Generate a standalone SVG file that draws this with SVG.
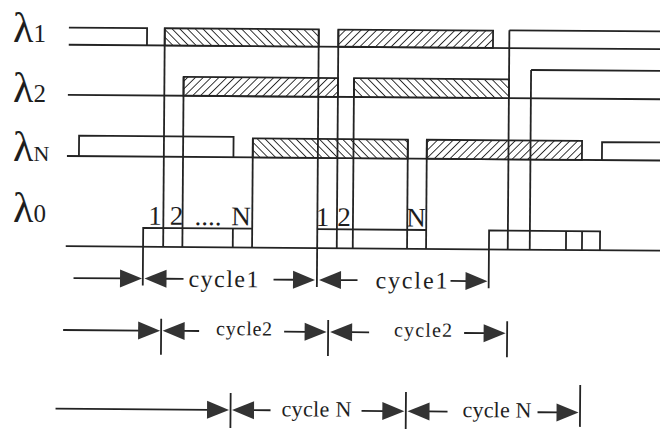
<svg xmlns="http://www.w3.org/2000/svg" xmlns:xlink="http://www.w3.org/1999/xlink" width="660" height="429" viewBox="0 0 660 429">
  <defs>
    <style>
      .ln { stroke: #232323; stroke-width: 1.8; fill: none; }
      .box { stroke: #232323; stroke-width: 1.8; }
      .back { fill: url(#hatchBack); }
      .fwd { fill: url(#hatchFwd); }
      .lam { font-family: "Liberation Serif", "Times New Roman", serif; fill: #1e1e1e; }
      .lbl { font-family: "Liberation Serif", "Times New Roman", serif; fill: #1e1e1e; font-size: 27px; text-anchor: middle; }
      .cyc { font-family: "Liberation Serif", "Times New Roman", serif; fill: #1e1e1e; }
      .ah { fill: #333; }
    </style>
    <!-- "\" hatching -->
    <pattern id="hatchBack" width="5.5" height="5.5" patternUnits="userSpaceOnUse" patternTransform="rotate(-45)">
      <rect width="5.5" height="5.5" fill="#fff"/>
      <line x1="0" y1="0" x2="0" y2="5.5" stroke="#222" stroke-width="1.8"/>
    </pattern>
    <!-- "/" hatching -->
    <pattern id="hatchFwd" width="5.5" height="5.5" patternUnits="userSpaceOnUse" patternTransform="rotate(45)">
      <rect width="5.5" height="5.5" fill="#fff"/>
      <line x1="0" y1="0" x2="0" y2="5.5" stroke="#222" stroke-width="1.8"/>
    </pattern>
    <!-- arrowheads, tip at origin -->
    <polygon id="ahR" class="ah" points="0,0 -22,-9 -22,9"/>
    <polygon id="ahL" class="ah" points="0,0 22,-9 22,9"/>
  </defs>

  <rect width="660" height="429" fill="#fff"/>

  <!-- channel labels -->
  <g id="labels">
    <text class="lam" x="13" y="42" font-size="42">λ<tspan font-size="25">1</tspan></text>
    <text class="lam" x="13" y="102" font-size="42">λ<tspan font-size="25">2</tspan></text>
    <text class="lam" x="13" y="161" font-size="42">λ<tspan font-size="22">N</tspan></text>
    <text class="lam" x="13" y="222" font-size="42">λ<tspan font-size="25">0</tspan></text>
  </g>

  <g transform="rotate(0.43 330 215)">
    <!-- wavelength λ1 -->
    <g id="lambda1">
      <path class="ln" d="M67.5,46.7 H672"/>
      <path class="ln" d="M67.5,29.5 H145.7 V46.7"/>
      <rect class="box back" x="163.4" y="29.5" width="154" height="17.2"/>
      <rect class="box fwd" x="337" y="29.5" width="154.7" height="17.2"/>
      <path class="ln" d="M508,29 H672"/>
    </g>

    <!-- wavelength λ2 -->
    <g id="lambda2">
      <path class="ln" d="M67,96.8 H672"/>
      <rect class="box fwd" x="182.6" y="78" width="154.4" height="18.8"/>
      <rect class="box back" x="353" y="78" width="155" height="18.8"/>
      <path class="ln" d="M530,68.5 H672"/>
    </g>

    <!-- wavelength λN -->
    <g id="lambdaN">
      <path class="ln" d="M66.5,158 H672"/>
      <path class="ln" d="M78.5,158 V137.5 H233 V158"/>
      <rect class="box back" x="252.3" y="139" width="155" height="19"/>
      <rect class="box fwd" x="426.3" y="139" width="155.2" height="19"/>
      <path class="ln" d="M601.5,158 V140 H672"/>
    </g>

    <!-- control channel λ0 -->
    <g id="lambda0">
      <path class="ln" d="M66,248.2 H672"/>
      <path class="ln" d="M143.3,287 V229.3 H252.3"/>
      <path class="ln" d="M233,229.3 V248.2"/>
      <path class="ln" d="M317.4,229.3 H426.3"/>
      <path class="ln" d="M489.2,287 V229.3 H600.2 V248.2"/>
      <path class="ln" d="M566.2,229.3 V248.2 M582.2,229.3 V248.2"/>
      <text class="lbl" x="155" y="226">1</text>
      <text class="lbl" x="176.5" y="226">2</text>
      <text class="lbl" x="208" y="226">....</text>
      <text class="lbl" x="241" y="226">N</text>
      <text class="lbl" x="322.5" y="226">1</text>
      <text class="lbl" x="344" y="226">2</text>
      <text class="lbl" x="416" y="226">N</text>
    </g>

    <!-- slot edges running down to the control channel -->
    <g id="edges">
      <path class="ln" d="M163.4,29.5 V248.2"/>
      <path class="ln" d="M182.6,78 V248.2"/>
      <path class="ln" d="M252.3,139 V248.2"/>
      <path class="ln" d="M317.4,29.5 V287"/>
      <path class="ln" d="M337,29.5 V248.2"/>
      <path class="ln" d="M353,78 V248.2"/>
      <path class="ln" d="M407.3,139 V248.2"/>
      <path class="ln" d="M426.3,139 V248.2"/>
      <path class="ln" d="M508,29 V248.2"/>
      <path class="ln" d="M530,68.5 V248.2"/>
    </g>

    <!-- cycle dimension arrows -->
    <g id="connectors">
      <!-- cycle1 row -->
      <path class="ln" d="M74,280 H123 M166,280 H184 M274,280 H296 M340,280 H358 M451,280 H469"/>
      <use xlink:href="#ahR" href="#ahR" transform="translate(142.5,280)"/>
      <use xlink:href="#ahL" href="#ahL" transform="translate(145,280)"/>
      <use xlink:href="#ahR" href="#ahR" transform="translate(315.5,280)"/>
      <use xlink:href="#ahL" href="#ahL" transform="translate(319.5,280)"/>
      <use xlink:href="#ahR" href="#ahR" transform="translate(488,280)"/>

      <!-- cycle2 row -->
      <path class="ln" d="M162,320 V356 M329,320 V356 M508,320 V356"/>
      <path class="ln" d="M64,332 H142 M184,332 H200 M285,332 H308 M352,332 H370 M465,332 H487"/>
      <use xlink:href="#ahR" href="#ahR" transform="translate(161,332)"/>
      <use xlink:href="#ahL" href="#ahL" transform="translate(163.5,332)"/>
      <use xlink:href="#ahR" href="#ahR" transform="translate(327.5,332)"/>
      <use xlink:href="#ahL" href="#ahL" transform="translate(331,332)"/>
      <use xlink:href="#ahR" href="#ahR" transform="translate(506.5,332)"/>

      <!-- cycle N row -->
      <path class="ln" d="M232,393.7 V428.7 M407.3,391.4 V429 M581.5,383 V425"/>
      <path class="ln" d="M57,410.7 H212 M252,410.7 H272 M363,410.7 H386 M430,410.7 H449 M539,410.7 H561"/>
      <use xlink:href="#ahR" href="#ahR" transform="translate(230.5,410.7)"/>
      <use xlink:href="#ahL" href="#ahL" transform="translate(233.5,410.7)"/>
      <use xlink:href="#ahR" href="#ahR" transform="translate(405.8,410.7)"/>
      <use xlink:href="#ahL" href="#ahL" transform="translate(409,410.7)"/>
      <use xlink:href="#ahR" href="#ahR" transform="translate(580,410.7)"/>
    </g>

    <!-- cycle labels -->
    <g id="cycleLabels">
      <text class="cyc" x="189" y="287.8" font-size="24" textLength="70" lengthAdjust="spacing">cycle1</text>
      <text class="cyc" x="376" y="287.8" font-size="24" textLength="72" lengthAdjust="spacing">cycle1</text>
      <text class="cyc" x="217" y="336" font-size="20" textLength="56" lengthAdjust="spacing">cycle2</text>
      <text class="cyc" x="395" y="336" font-size="20" textLength="58" lengthAdjust="spacing">cycle2</text>
      <text class="cyc" x="283" y="416.5" font-size="22" textLength="70" lengthAdjust="spacing">cycle N</text>
      <text class="cyc" x="464" y="416" font-size="22" textLength="69" lengthAdjust="spacing">cycle N</text>
    </g>
  </g>
</svg>
